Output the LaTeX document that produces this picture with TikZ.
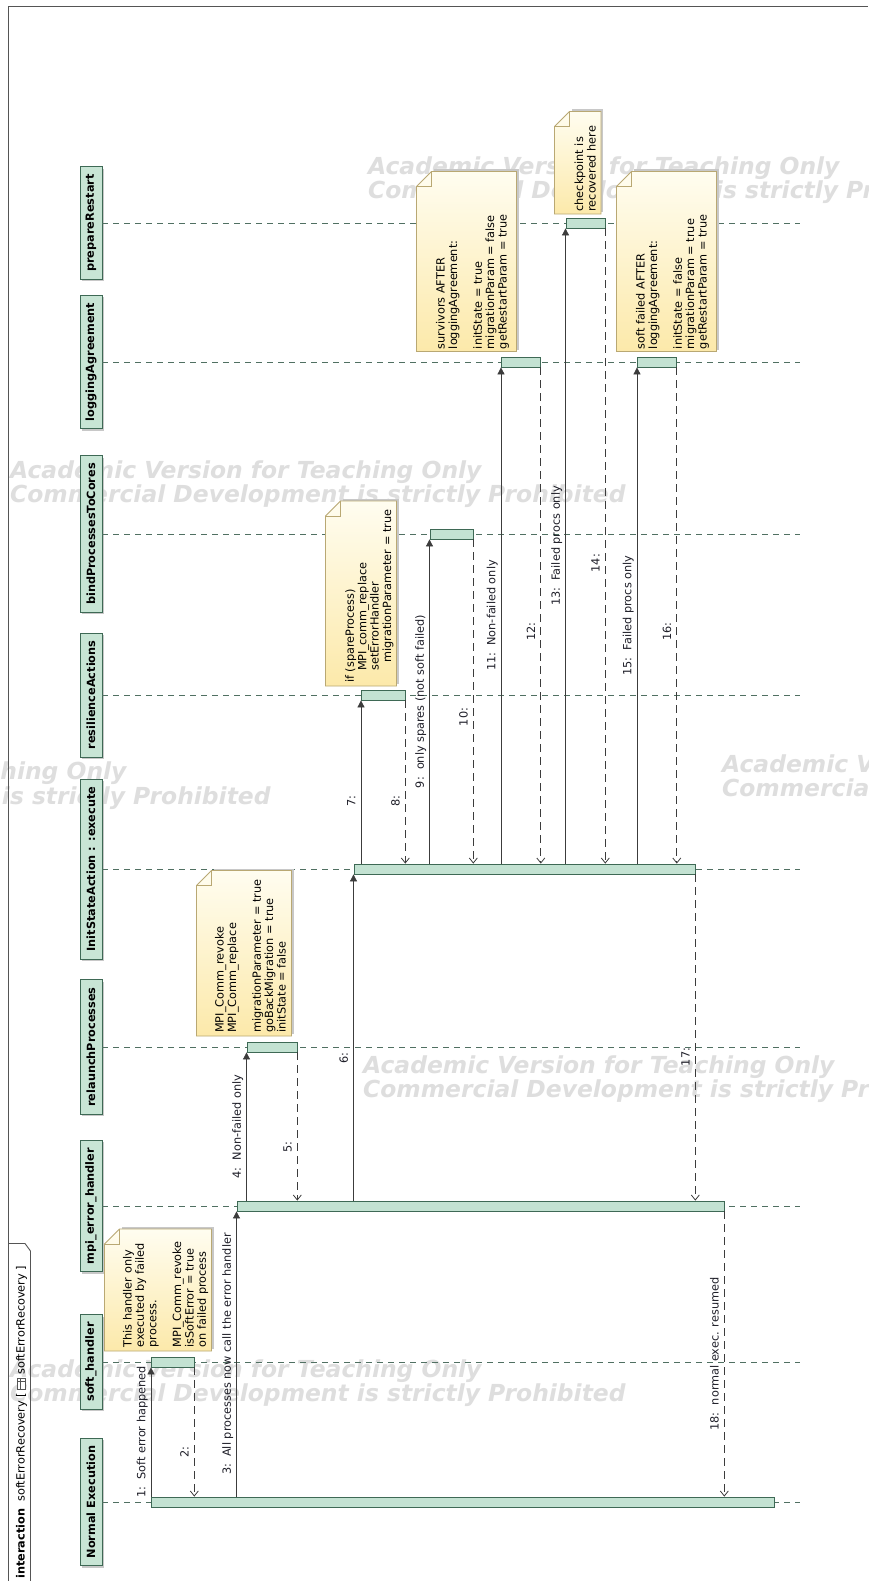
\documentclass[tikz,border=0pt]{standalone}
\usepackage{fontspec}
\setmainfont{DejaVu Sans}
\usetikzlibrary{arrows.meta,shadows}

% UML note with folded corner (image top-left)
\newcommand{\umlnote}[4]{%
  \fill[noteshade] (#1+17,#2-2) rectangle (#3+2,#4-2);
  \shade[top color=notetop, bottom color=notebot, draw=noteline, line width=0.8pt]
    (#1+15,#2) -- (#3,#2) -- (#3,#4) -- (#1,#4) -- (#1,#2+15) -- cycle;
  \draw[noteline, line width=0.8pt] (#1,#2+15) -- (#1+15,#2+15) -- (#1+15,#2);
}

\begin{document}
\begin{tikzpicture}[x=1pt,y=-1pt,
    head/.style={draw=boxline, fill=headfill, line width=0.8pt, rotate=90,
      minimum height=22pt, inner xsep=7.5pt,
      drop shadow={shadow xshift=2pt, shadow yshift=-2pt, fill=black!30, opacity=0.7},
      font=\bfseries\fontsize{11.3}{13}\selectfont},
    act/.style={draw=boxline, fill=actfill, line width=0.8pt, minimum height=10pt,
      inner sep=0, anchor=west},
    lifeline/.style={draw=lifecol, line width=0.7pt, dash pattern=on 6pt off 5pt},
    call/.style={draw=msgcol, line width=0.8pt,
      -{Triangle[length=7pt,width=7pt,fill=msgcol]}},
    ret/.style={draw=msgcol, line width=0.8pt, dash pattern=on 8pt off 5pt,
      -{Straight Barb[length=5pt,width=8pt]}},
    lbl/.style={rotate=90, anchor=south, inner sep=2.5pt, text height=8.6pt,
      text depth=2.7pt, text=lblcol, font=\fontsize{11.3}{13}\selectfont},
    notetext/.style={rotate=90, anchor=south west, inner sep=0, align=left,
      text depth=2.7pt, font=\fontsize{11.3}{12.4}\selectfont},
    wmark/.style={anchor=west, align=left, inner sep=0, text=wmcol,
      font=\bfseries\itshape\fontsize{23.4}{24.5}\selectfont},
    tabtext/.style={rotate=90, anchor=west, inner sep=0,
      font=\fontsize{11.3}{13}\selectfont}]
    \definecolor{headfill}{RGB}{200,229,213}
    \definecolor{actfill}{RGB}{195,226,210}
    \definecolor{boxline}{RGB}{62,105,85}
    \definecolor{lifecol}{RGB}{80,112,98}
    \definecolor{msgcol}{RGB}{60,60,60}
    \definecolor{lblcol}{RGB}{30,30,40}
    \definecolor{notetop}{RGB}{255,253,240}
    \definecolor{notebot}{RGB}{252,233,170}
    \definecolor{noteline}{RGB}{185,168,115}
    \definecolor{noteshade}{RGB}{200,200,200}
    \definecolor{wmcol}{RGB}{222,222,222}
    \definecolor{framecol}{RGB}{85,85,85}

    \useasboundingbox (0,0) rectangle (868,1581);
    \fill[white] (0,0) rectangle (868,1581);
    \clip (0,0) rectangle (868,1581);

    % watermarks
    \node[wmark] (wm1) at (368,180) {Academic Version for Teaching Only\\Commercial Development is strictly Prohibited};
    \node[wmark] (wm2) at (10,484) {Academic Version for Teaching Only\\Commercial Development is strictly Prohibited};
    \node[wmark] (wm3) at (-345,785.5) {Academic Version for Teaching Only\\Commercial Development is strictly Prohibited};
    \node[wmark] (wm4) at (722,778) {Academic Version for Teaching Only\\Commercial Development is strictly Prohibited};
    \node[wmark] (wm5) at (363,1079) {Academic Version for Teaching Only\\Commercial Development is strictly Prohibited};
    \node[wmark] (wm6) at (10,1383) {Academic Version for Teaching Only\\Commercial Development is strictly Prohibited};

    % frame and its tab
    \draw[framecol, line width=0.9pt] (8.5,1581) -- (8.5,6.5) -- (868,6.5);
    \draw[framecol, line width=0.9pt] (8.5,1243.5) -- (25,1243.5) -- (30.5,1251) -- (30.5,1581);
    \node[tabtext] (tabA) at (21.5,1579) {\textbf{interaction}\ \ softErrorRecovery [};
    \node[draw=framecol, fill=white, line width=0.6pt, minimum width=8pt, minimum height=11pt,
      inner sep=0, anchor=south] (tabIcon) at ([yshift=3pt]tabA.east) {};
    \draw[framecol, line width=0.6pt] ([xshift=-1.5pt]tabIcon.north) -- ([xshift=-1.5pt]tabIcon.south);
    \draw[framecol, line width=0.6pt] ([yshift=-3pt]tabIcon.north west) -- ([yshift=-3pt]tabIcon.north east);
    \node[tabtext] (tabB) at ([yshift=3pt]tabIcon.north) {softErrorRecovery ]};

    % lifeline heads
    \coordinate (lend) at (800,0);
    \node[head] (neH) at (91,1502) {Normal Execution};
    \node[head] (shH) at (91,1362) {soft\_handler};
    \node[head] (meH) at (91,1206) {mpi\_error\_handler};
    \node[head] (rpH) at (91,1047) {relaunchProcesses};
    \node[head] (isH) at (91,869) {InitStateAction : :execute};
    \node[head] (raH) at (91,695) {resilienceActions};
    \node[head] (bpH) at (91,534) {bindProcessesToCores};
    \node[head] (laH) at (91,362) {loggingAgreement};
    \node[head] (prH) at (91,223) {prepareRestart};
    \foreach \h in {neH,shH,meH,rpH,isH,raH,bpH,laH,prH}
      \draw[lifeline] (\h.south) -- (\h.south -| lend);

    % notes
    \umlnote{104.5}{1229}{211.5}{1351}
    \node[notetext] (noteA) at (208.8,1347.5) {This handler only\\executed by failed\\process.\\[12.4pt]MPI\_Comm\_revoke\\isSoftError = true\\on failed process};
    \umlnote{196.5}{870.5}{291.5}{1036}
    \node[notetext] (noteB) at (288.5,1033) {MPI\_Comm\_revoke\\MPI\_Comm\_replace\\[12.4pt]migrationParameter = true\\goBackMigration = true\\initState = false};
    \umlnote{325.5}{501}{396.5}{686}
    \node[notetext] (noteC) at (394,683) {if (spareProcess)\\\hspace*{12pt}MPI\_comm\_replace\\\hspace*{12pt}setErrorHandler\\\hspace*{20pt}migrationParameter = true};
    \umlnote{416.5}{171.5}{516.5}{351.5}
    \node[notetext] (noteD) at (509.5,349.3) {survivors AFTER\\loggingAgreement:\\[12.4pt]initState = true\\migrationParam = false\\getRestartParam = true};
    \umlnote{554.5}{111.5}{601}{214}
    \node[notetext] (noteE) at (598.5,211.7) {checkpoint is\\recovered here};
    \umlnote{616.5}{171.5}{716.5}{351.5}
    \node[notetext] (noteF) at (709.5,349.3) {soft failed AFTER\\loggingAgreement:\\[12.4pt]initState = false\\migrationParam = true\\getRestartParam = true};

    % activations
    \node[act, minimum width=623pt] (neA) at (151,1502) {};
    \node[act, minimum width=42.5pt] (shA) at (151,1362) {};
    \node[act, minimum width=487pt] (meA) at (236.5,1206) {};
    \node[act, minimum width=50pt] (rpA) at (246.5,1047) {};
    \node[act, minimum width=341pt] (isA) at (353.5,869) {};
    \node[act, minimum width=43.5pt] (raA) at (361,695) {};
    \node[act, minimum width=43pt] (bpA) at (429.5,534) {};
    \node[act, minimum width=39pt] (laA) at (501,362) {};
    \node[act, minimum width=39pt] (prA) at (565.5,223) {};
    \node[act, minimum width=39pt] (laB) at (637,362) {};

    % messages
    \draw[call] (neA.north west) -- (shA.south west) node[lbl, midway] (m1) {1:\ \ Soft error happened};
    \draw[ret] (shA.south east) -- (shA.south east |- neA.north) node[lbl, pos=0.654] (m2) {2:};
    \draw[call] (meA.south west |- neA.north) -- (meA.south west) node[lbl, midway] (m3) {3:\ \ All processes now call the error handler};
    \draw[call] (rpA.south west |- meA.north) -- (rpA.south west) node[lbl, midway] (m4) {4:\ \ Non-failed only};
    \draw[ret] (rpA.south east) -- (rpA.south east |- meA.north) node[lbl, pos=0.638] (m5) {5:};
    \draw[call] (isA.south west |- meA.north) -- (isA.south west) node[lbl, pos=0.437] (m6) {6:};
    \draw[call] (raA.south west |- isA.north) -- (raA.south west) node[lbl, pos=0.384] (m7) {7:};
    \draw[ret] (raA.south east) -- (raA.south east |- isA.north) node[lbl, pos=0.616] (m8) {8:};
    \draw[call] (bpA.south west |- isA.north) -- (bpA.south west) node[lbl, midway] (m9) {9:\ \ only spares (not soft failed)};
    \draw[ret] (bpA.south east) -- (bpA.south east |- isA.north) node[lbl, pos=0.548] (m10) {10:};
    \draw[call] (laA.south west |- isA.north) -- (laA.south west) node[lbl, midway] (m11) {11:\ \ Non-failed only};
    \draw[ret] (laA.south east) -- (laA.south east |- isA.north) node[lbl, pos=0.533] (m12) {12:};
    \draw[call] (prA.south west |- isA.north) -- (prA.south west) node[lbl, midway] (m13) {13:\ \ Failed procs only};
    \draw[ret] (prA.south east) -- (prA.south east |- isA.north) node[lbl, pos=0.527] (m14) {14:};
    \draw[call] (laB.south west |- isA.north) -- (laB.south west) node[lbl, midway] (m15) {15:\ \ Failed procs only};
    \draw[ret] (laB.south east) -- (laB.south east |- isA.north) node[lbl, pos=0.533] (m16) {16:};
    \draw[ret] (isA.south east) -- (isA.south east |- meA.north) node[lbl, pos=0.56] (m17) {17:};
    \draw[ret] (meA.south east) -- (meA.south east |- neA.north) node[lbl, midway] (m18) {18:\ \ normal exec. resumed};
  \end{tikzpicture}
\end{document}
